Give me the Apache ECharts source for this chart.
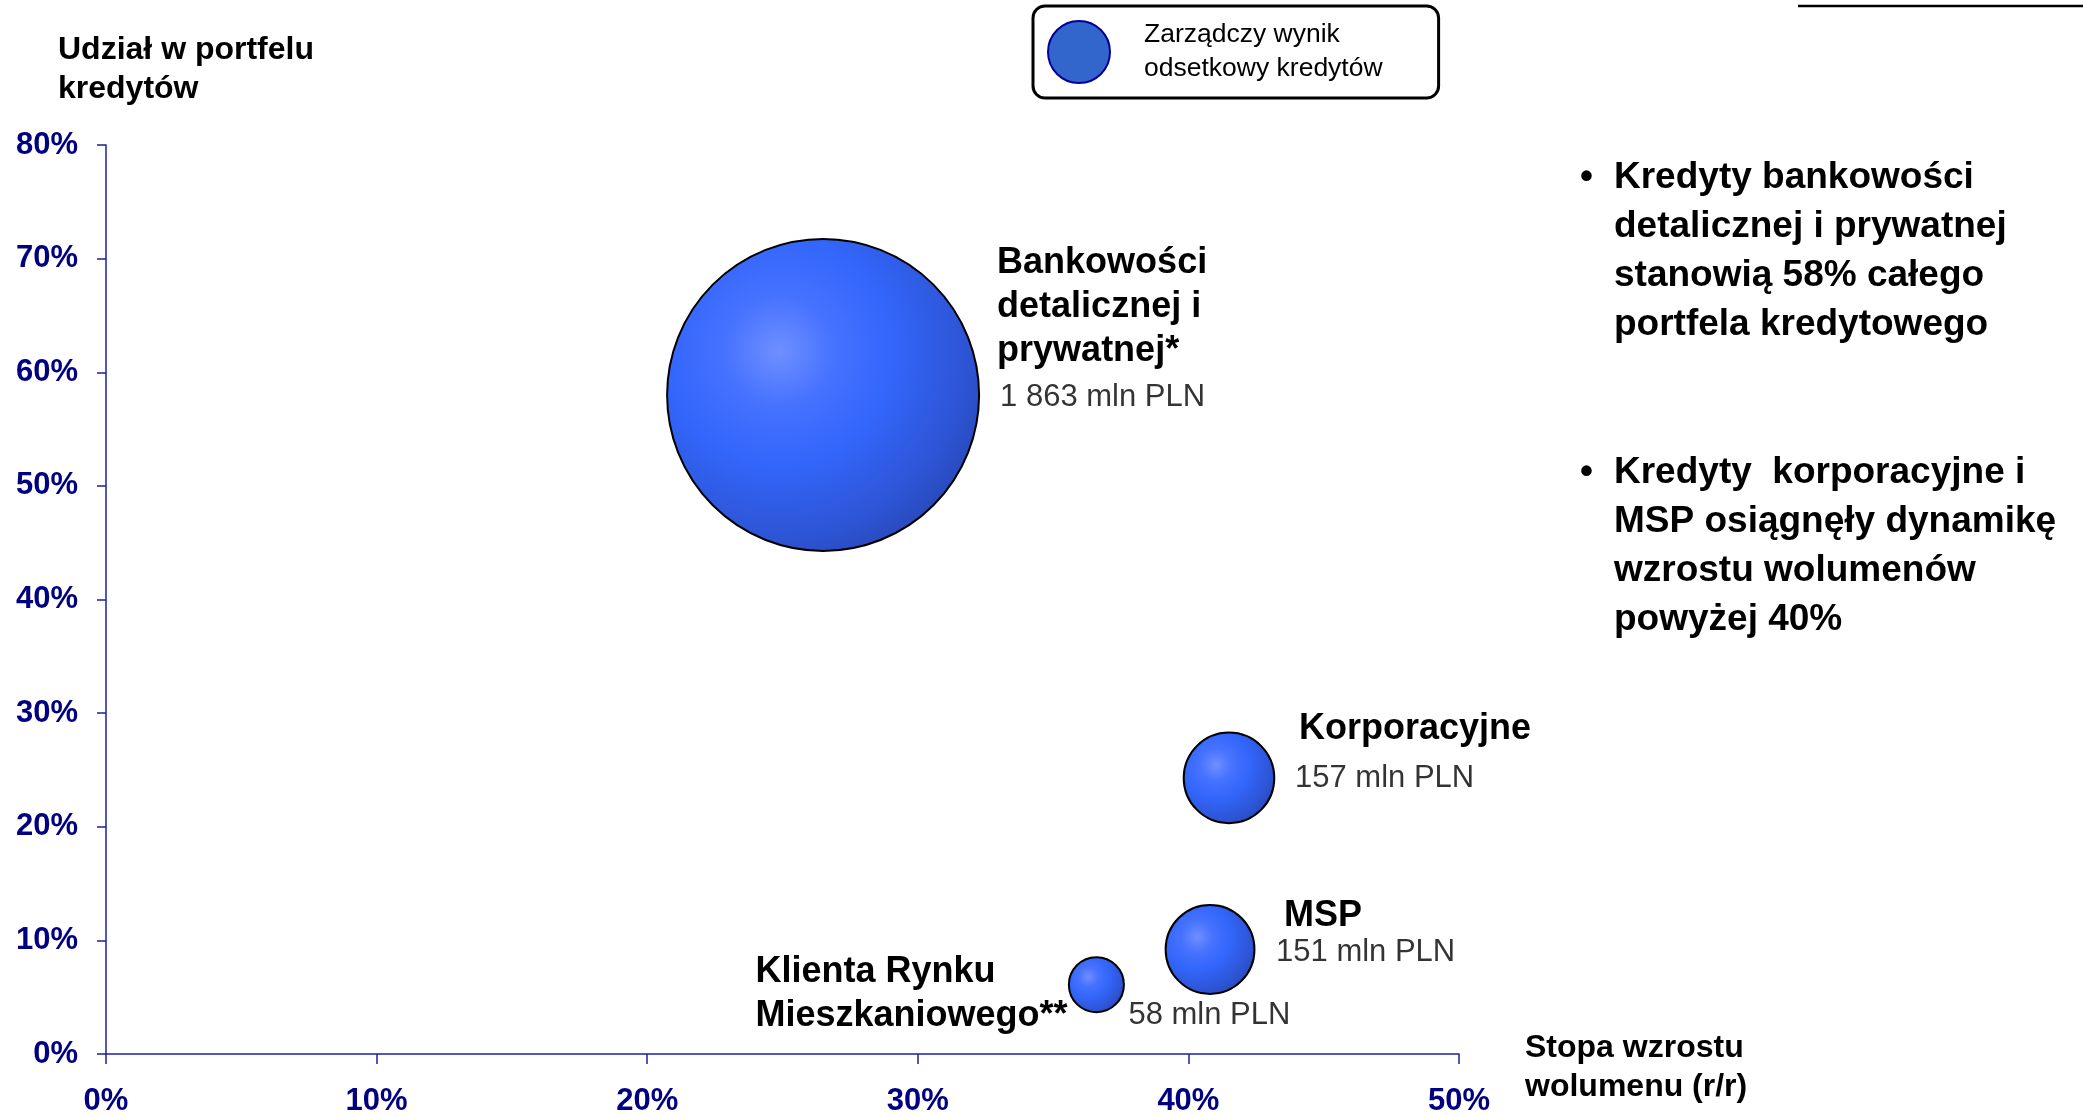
<!DOCTYPE html>
<html>
<head>
<meta charset="utf-8">
<script src="https://cdn.jsdelivr.net/npm/echarts@6/dist/echarts.min.js"></script>
<style>
  html, body { margin: 0; padding: 0; background: #ffffff; }
  #chart { width: 2083px; height: 1117px; }
</style>
</head>
<body>
<div id="chart"></div>
<script>
// Loan segments: volume growth y/y (%), share of the loan portfolio (%),
// management interest income on loans (mln PLN) -> bubble area
const segments = ['Bankowości\ndetalicznej i\nprywatnej*', 'Korporacyjne', 'MSP', 'Klienta Rynku\nMieszkaniowego**'];
const volumeGrowth = [26.5, 41.5, 40.8, 36.6];
const portfolioShare = [58, 24.3, 9.2, 6.1];
const interestIncome = [1863, 157, 151, 58];

// Axis ticks (percent)
const xTicks = [0, 10, 20, 30, 40, 50];
const yTicks = [0, 10, 20, 30, 40, 50, 60, 70, 80];

const seriesName = 'Zarządczy wynik\nodsetkowy kredytów';
const FONT = 'Arial, "Liberation Sans", Helvetica, sans-serif';
const AXIS_COLOR = '#1f1f9e';
const TICK_TEXT = '#000080';

// Label placement around each bubble (pixels from its centre, text block anchored on its left edge)
const nameLabelPlacement = [
  { dx: 174, dy: -88 },
  { dx: 70, dy: -49 },
  { dx: 74, dy: -33 },
  { dx: -341, dy: 9 }
];
const valueLabelPlacement = [
  { dx: 177, dy: 2 },
  { dx: 66, dy: 1 },
  { dx: 66, dy: 3 },
  { dx: 32, dy: 31 }
];

const maxIncome = Math.max.apply(null, interestIncome);
const MAX_BUBBLE = 312; // diameter of the largest bubble, px
const bubbleSize = (v) => MAX_BUBBLE * Math.sqrt(v[2] / maxIncome);
const fmtThousands = (v) => String(v).replace(/\B(?=(\d{3})+(?!\d))/g, ' ');

const bubbleFill = new echarts.graphic.RadialGradient(0.36, 0.36, 0.8, [
  { offset: 0, color: '#6f8fff' },
  { offset: 0.22, color: '#4672ff' },
  { offset: 0.45, color: '#3366fb' },
  { offset: 0.75, color: '#2d54d4' },
  { offset: 1, color: '#2440a4' }
]);

const bubbleData = segments.map((name, i) => ({
  name: name,
  value: [volumeGrowth[i], portfolioShare[i], interestIncome[i]],
  label: {
    offset: [nameLabelPlacement[i].dx, nameLabelPlacement[i].dy]
  }
}));

const valueData = segments.map((name, i) => ({
  name: name,
  value: [volumeGrowth[i], portfolioShare[i], interestIncome[i]],
  label: {
    offset: [valueLabelPlacement[i].dx, valueLabelPlacement[i].dy]
  }
}));

const chart = echarts.init(document.getElementById('chart'), null, { renderer: 'canvas' });

chart.setOption({
  animation: false,
  backgroundColor: '#ffffff',
  textStyle: { fontFamily: FONT },
  grid: { left: 106, top: 145, right: 624, bottom: 62, containLabel: false },
  legend: {
    data: [{
      name: seriesName,
      icon: 'circle',
      itemStyle: { color: '#3366cc', borderColor: '#000099', borderWidth: 2 }
    }],
    left: 1033,
    top: 6,
    orient: 'horizontal',
    itemWidth: 62,
    itemHeight: 62,
    padding: [12, 56, 12, 14],
    backgroundColor: '#ffffff',
    borderColor: '#000000',
    borderWidth: 3,
    borderRadius: 12,
    selectedMode: false,
    textStyle: {
      fontFamily: FONT,
      fontSize: 26.5,
      lineHeight: 34,
      color: '#000000',
      padding: [0, 0, 0, 29]
    }
  },
  xAxis: {
    type: 'value',
    min: xTicks[0],
    max: xTicks[xTicks.length - 1],
    interval: xTicks[1] - xTicks[0],
    axisLine: { show: true, lineStyle: { color: AXIS_COLOR, width: 1.5 } },
    axisTick: { show: true, inside: false, length: 10, lineStyle: { color: AXIS_COLOR, width: 1.5 } },
    splitLine: { show: false },
    axisLabel: {
      margin: 32,
      fontFamily: FONT,
      fontSize: 31,
      lineHeight: 31,
      fontWeight: 'bold',
      color: TICK_TEXT,
      formatter: (v) => v + '%'
    }
  },
  yAxis: {
    type: 'value',
    min: yTicks[0],
    max: yTicks[yTicks.length - 1],
    interval: yTicks[1] - yTicks[0],
    axisLine: { show: true, lineStyle: { color: AXIS_COLOR, width: 1.5 } },
    axisTick: { show: true, inside: false, length: 9, lineStyle: { color: AXIS_COLOR, width: 1.5 } },
    splitLine: { show: false },
    axisLabel: {
      margin: 28,
      fontFamily: FONT,
      fontSize: 31,
      fontWeight: 'bold',
      color: TICK_TEXT,
      formatter: (v) => v + '%'
    }
  },
  series: [
    {
      name: seriesName,
      type: 'scatter',
      data: bubbleData,
      symbol: 'circle',
      symbolSize: bubbleSize,
      itemStyle: {
        color: bubbleFill,
        borderColor: '#000000',
        borderWidth: 2,
        opacity: 1
      },
      emphasis: { disabled: true },
      label: {
        show: true,
        position: 'inside',
        align: 'left',
        verticalAlign: 'middle',
        formatter: '{b}',
        fontFamily: FONT,
        fontSize: 36,
        fontWeight: 'bold',
        lineHeight: 44,
        color: '#000000'
      },
      z: 3
    },
    {
      name: 'valueLabels',
      type: 'scatter',
      data: valueData,
      symbol: 'circle',
      symbolSize: 1,
      silent: true,
      itemStyle: { color: 'rgba(0,0,0,0)' },
      emphasis: { disabled: true },
      label: {
        show: true,
        position: 'inside',
        align: 'left',
        verticalAlign: 'middle',
        formatter: (p) => fmtThousands(p.value[2]) + ' mln PLN',
        fontFamily: FONT,
        fontSize: 31,
        fontWeight: 'normal',
        color: '#000000',
        textBorderWidth: 0
      },
      z: 4
    }
  ],
  graphic: [
    // thin rule in the top-right corner
    {
      type: 'line',
      shape: { x1: 1798, y1: 6, x2: 2083, y2: 6 },
      style: { stroke: '#000000', lineWidth: 2.5 }
    },
    // axis titles
    {
      type: 'text',
      left: 58,
      top: 31,
      style: {
        text: 'Udział w portfelu\nkredytów',
        font: 'bold 32px ' + FONT,
        lineHeight: 39,
        fill: '#000000'
      }
    },
    {
      type: 'text',
      left: 1525,
      top: 1029,
      style: {
        text: 'Stopa wzrostu\nwolumenu (r/r)',
        font: 'bold 32px ' + FONT,
        lineHeight: 39,
        fill: '#000000'
      }
    },
    // commentary bullets
    {
      type: 'text',
      left: 1580,
      top: 153,
      style: { text: '•', font: 'bold 37px ' + FONT, lineHeight: 49, fill: '#000000' }
    },
    {
      type: 'text',
      left: 1614,
      top: 153,
      style: {
        text: 'Kredyty bankowości\ndetalicznej i prywatnej\nstanowią 58% całego\nportfela kredytowego',
        font: 'bold 37px ' + FONT,
        lineHeight: 49,
        fill: '#000000'
      }
    },
    {
      type: 'text',
      left: 1580,
      top: 448,
      style: { text: '•', font: 'bold 37px ' + FONT, lineHeight: 49, fill: '#000000' }
    },
    {
      type: 'text',
      left: 1614,
      top: 448,
      style: {
        text: 'Kredyty  korporacyjne i\nMSP osiągnęły dynamikę\nwzrostu wolumenów\npowyżej 40%',
        font: 'bold 37px ' + FONT,
        lineHeight: 49,
        fill: '#000000'
      }
    }
  ]
});
</script>
</body>
</html>
